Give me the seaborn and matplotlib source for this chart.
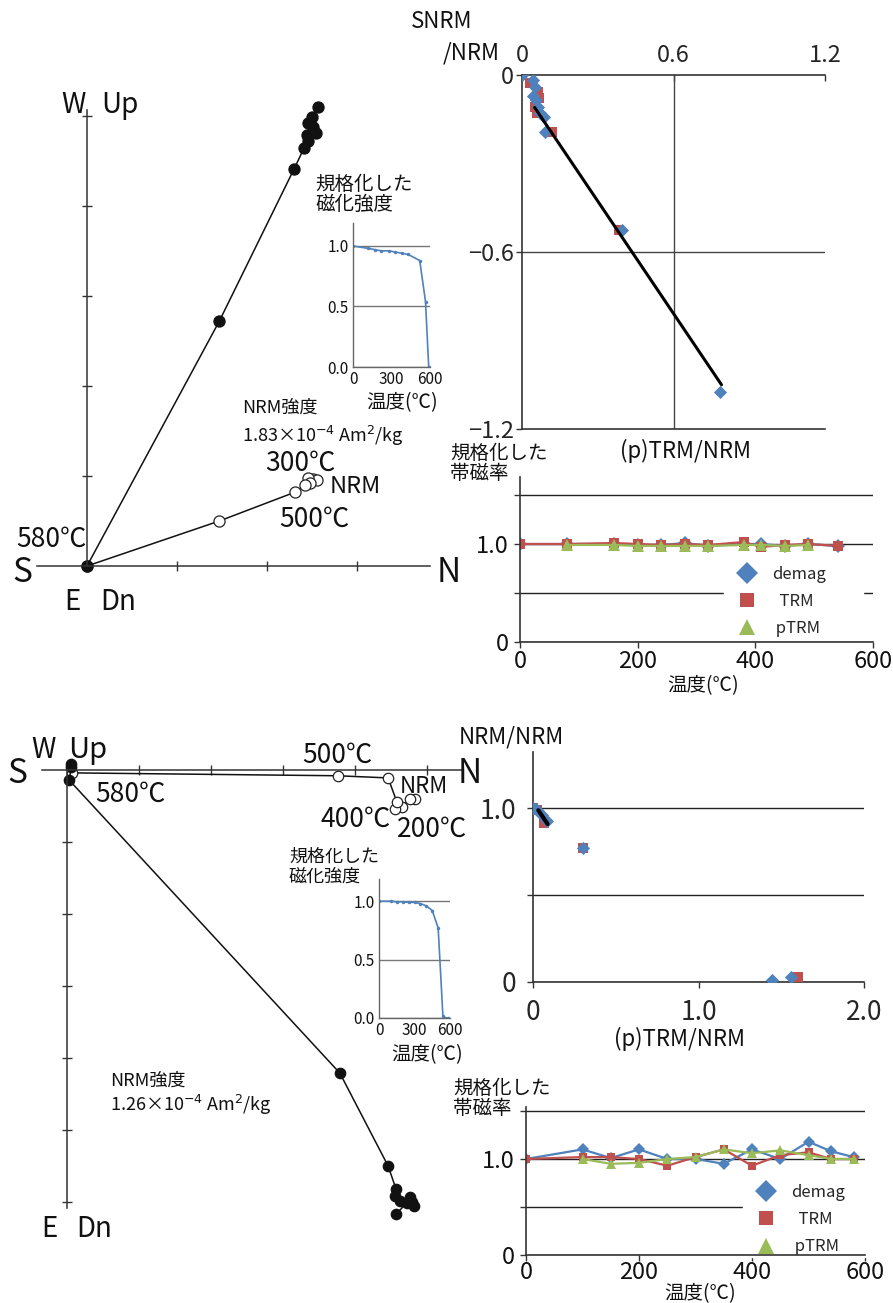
import matplotlib
matplotlib.use('Agg')
import matplotlib.pyplot as plt
from matplotlib.lines import Line2D
import seaborn as sns

# ---------------- data ----------------
# Panel A: Zijderveld diagram, sample 1 (units = tick intervals)
a_vert_n = [2.57, 2.50, 2.51, 2.46, 2.54, 2.44, 2.46, 2.41, 2.30, 1.47, 0.0]
a_vert_up = [5.10, 4.99, 4.88, 4.92, 4.81, 4.79, 4.72, 4.64, 4.41, 2.72, 0.0]
a_hor_n = [2.51, 2.56, 2.46, 2.48, 2.42, 2.31, 1.47, 0.0]
a_hor_e = [0.97, 0.96, 0.98, 0.92, 0.90, 0.82, 0.50, 0.0]
# inset A: normalised intensity vs temperature
a_inset_t = [0, 120, 170, 220, 280, 330, 380, 430, 520, 565, 590]
a_inset_m = [1.0, 0.98, 0.97, 0.96, 0.96, 0.95, 0.94, 0.93, 0.88, 0.54, 0.0]

# Panel B: Arai plot, sample 1
b_demag_x = [0.0, 0.045, 0.052, 0.045, 0.056, 0.062, 0.073, 0.087, 0.093, 0.396, 0.786]
b_demag_y = [0.0, -0.017, -0.04, -0.07, -0.085, -0.107, -0.13, -0.141, -0.192, -0.525, -1.074]
b_trm_x = [0.0, 0.032, 0.065, 0.069, 0.052, 0.061, 0.117, 0.383]
b_trm_y = [0.0, -0.028, -0.056, -0.079, -0.107, -0.13, -0.192, -0.525]
b_fit_x = [0.05, 0.79]
b_fit_y = [-0.11, -1.05]

# Panel C: normalised susceptibility, sample 1
c_temp = [0, 80, 160, 200, 240, 280, 320, 380, 410, 450, 490, 540]
c_demag = [1.0, 1.0, 1.0, 0.99, 0.99, 1.01, 0.98, 1.0, 1.0, 0.98, 1.0, 0.98]
c_trm = [1.0, 1.0, 1.01, 1.0, 0.99, 1.0, 0.99, 1.02, 0.97, 0.99, 1.0, 0.98]
c_ptrm_temp = [80, 160, 200, 240, 280, 320, 380, 410, 450, 490]
c_ptrm = [0.99, 0.99, 0.98, 0.98, 0.98, 0.98, 0.99, 0.99, 0.98, 0.99]

# Panel D: Zijderveld diagram, sample 2
d_vert_n = [4.57, 4.72, 4.82, 4.79, 4.76, 4.63, 4.56, 4.57, 4.46, 3.79, 0.03, 0.06, 0.06]
d_vert_up = [-6.17, -6.01, -6.06, -6.0, -5.93, -5.99, -5.92, -5.82, -5.5, -4.21, -0.14, 0.04, 0.08]
d_hor_n = [4.83, 4.76, 4.65, 4.56, 4.58, 4.46, 3.76, 0.07]
d_hor_e = [-0.40, -0.40, -0.51, -0.54, -0.44, -0.11, -0.08, -0.04]
# inset D
d_inset_t = [0, 100, 150, 200, 250, 300, 350, 400, 450, 500, 540, 560, 580]
d_inset_m = [1.0, 1.0, 0.995, 0.995, 0.99, 0.99, 0.98, 0.96, 0.92, 0.77, 0.02, 0.0, 0.0]

# Panel E: Arai plot, sample 2
e_demag_x = [0.0, 0.018, 0.032, 0.052, 0.082, 0.303, 1.444, 1.558]
e_demag_y = [1.0, 0.994, 0.98, 0.96, 0.923, 0.77, 0.013, 0.029]
e_trm_x = [0.0, 0.026, 0.066, 0.303, 1.604]
e_trm_y = [1.0, 0.987, 0.914, 0.77, 0.029]
e_fit_x = [0.032, 0.088]
e_fit_y = [0.987, 0.908]

# Panel F: normalised susceptibility, sample 2
f_temp = [0, 100, 150, 200, 250, 300, 350, 400, 450, 500, 540, 580]
f_demag = [1.0, 1.10, 1.01, 1.10, 1.0, 1.0, 0.95, 1.10, 1.0, 1.18, 1.08, 1.02]
f_trm = [1.0, 1.02, 1.02, 1.0, 0.93, 1.02, 1.10, 0.93, 1.04, 1.07, 1.0, 1.0]
f_ptrm_temp = [100, 150, 200, 250, 300, 350, 400, 450, 500, 540, 580]
f_ptrm = [1.0, 0.95, 0.96, 1.0, 1.02, 1.10, 1.06, 1.09, 1.04, 1.0, 1.0]

legend_labels = ['demag', '  TRM', ' pTRM']

# ---------------- style ----------------
sns.set_theme(style='white')
plt.rcParams['font.family'] = ['Noto Sans CJK JP', 'DejaVu Sans']
plt.rcParams['axes.unicode_minus'] = False

BLUE = '#4f81bd'
RED = '#c0504d'
GREEN = '#9bbb59'
INK = '#111111'
AXC = '#333333'

W, H = 893, 1303
fig = plt.figure(figsize=(W / 100, H / 100), dpi=100)


def px_ax(x0, y0, x1, y1):
    ax = fig.add_axes([x0 / W, 1 - y1 / H, (x1 - x0) / W, (y1 - y0) / H])
    ax.patch.set_alpha(0)
    return ax


def ptxt(x, y, s, size, ha='center', va='baseline', **kw):
    return fig.text(x / W, 1 - y / H, s, fontsize=size, ha=ha, va=va, color=INK, **kw)


def zij_axes(ax, hb, vb, xt, yt):
    for sd in ('top', 'right'):
        ax.spines[sd].set_visible(False)
    for sd in ('left', 'bottom'):
        ax.spines[sd].set_position(('data', 0))
        ax.spines[sd].set_color(AXC)
        ax.spines[sd].set_linewidth(1.1)
    ax.spines['bottom'].set_bounds(*hb)
    ax.spines['left'].set_bounds(*vb)
    ax.set_xticks(xt)
    ax.set_yticks(yt)
    ax.tick_params(direction='inout', length=7, width=1, color=AXC, left=True, bottom=True,
                   labelleft=False, labelbottom=False)
    ax.set_xlabel('')
    ax.set_ylabel('')


def zij_paths(ax, hn, he, vn, vu, ms):
    sns.lineplot(x=hn, y=he, sort=False, estimator=None, ax=ax, color=INK, lw=1.1,
                 marker='o', markersize=ms, markerfacecolor='white', markeredgecolor='#222222',
                 markeredgewidth=0.9, legend=False)
    sns.lineplot(x=vn, y=vu, sort=False, estimator=None, ax=ax, color=INK, lw=1.1,
                 marker='o', markersize=ms, markerfacecolor=INK, markeredgecolor=INK,
                 markeredgewidth=0.9, legend=False)


def inset(ax, t, m):
    sns.lineplot(x=t, y=m, sort=False, estimator=None, ax=ax, color=BLUE, lw=1.2,
                 marker='o', markersize=2.5, markeredgewidth=0, legend=False)
    ax.set_xlim(0, 600)
    ax.set_ylim(0, 1.19)
    ax.set_xticks([0, 300, 600], ['0', '300', '600'])
    ax.set_yticks([0, 0.5, 1.0], ['0.0', '0.5', '1.0'])
    ax.yaxis.grid(True, color='#777777', lw=1)
    for sd in ('top', 'right'):
        ax.spines[sd].set_visible(False)
    for sd in ('left', 'bottom'):
        ax.spines[sd].set_color('#666666')
        ax.spines[sd].set_linewidth(1)
    ax.tick_params(length=0, labelsize=11, colors=INK, pad=3)
    ax.set_xlabel('')
    ax.set_ylabel('')


def susc(ax, temp, dm, trm, pt, ptrm, ytop, ms, leg_box, xpad, ypad):
    sns.lineplot(x=temp, y=dm, sort=False, estimator=None, ax=ax, color=BLUE, lw=1.6,
                 marker='D', markersize=ms, markeredgewidth=0, legend=False)
    sns.lineplot(x=temp, y=trm, sort=False, estimator=None, ax=ax, color=RED, lw=1.6,
                 marker='s', markersize=ms - 0.5, markeredgewidth=0, legend=False)
    sns.lineplot(x=pt, y=ptrm, sort=False, estimator=None, ax=ax, color=GREEN, lw=1.6,
                 marker='^', markersize=ms + 0.5, markeredgewidth=0, legend=False)
    ax.set_xlim(0, 600)
    ax.set_ylim(0, ytop)
    ax.set_xticks([0, 200, 400, 600], ['0', '200', '400', '600'])
    ax.set_yticks([0, 0.5, 1.0, 1.5], ['0', '', '1.0', ''])
    ax.yaxis.grid(True, color='#222222', lw=1)
    for sd in ('top', 'right'):
        ax.spines[sd].set_visible(False)
    for sd in ('left', 'bottom'):
        ax.spines[sd].set_color(AXC)
        ax.spines[sd].set_linewidth(1.2)
    ax.tick_params(axis='x', bottom=True, direction='out', length=4, width=1, color=AXC,
                   labelsize=17, pad=xpad, labelcolor=INK)
    ax.tick_params(axis='y', left=True, direction='out', length=4, width=1, color=AXC,
                   labelsize=17, pad=ypad, labelcolor=INK)
    ax.set_xlabel('')
    ax.set_ylabel('')
    handles = [Line2D([], [], ls='none', marker='D', color=BLUE, markersize=11, mew=0),
               Line2D([], [], ls='none', marker='s', color=RED, markersize=10, mew=0),
               Line2D([], [], ls='none', marker='^', color=GREEN, markersize=12, mew=0)]
    x0, y0, x1 = leg_box
    leg = ax.legend(handles, legend_labels, loc='upper left',
                    bbox_to_anchor=(x0 / W, 1 - y0 / H, (x1 - x0) / W, 0.0),
                    bbox_transform=fig.transFigure, mode='expand', frameon=True,
                    facecolor='white', edgecolor='white', framealpha=1, fancybox=False,
                    fontsize=12, handlelength=2.6, handletextpad=0.2, labelspacing=0.62,
                    borderpad=0.1, borderaxespad=0)
    leg.set_zorder(2.4)


def arai_markers(ax, tx, ty, dx, dy, fx, fy, fit_lw):
    sns.scatterplot(x=tx, y=ty, marker='s', s=55, color=RED, linewidth=0, ax=ax, legend=False, zorder=3)
    sns.scatterplot(x=dx, y=dy, marker='D', s=45, color=BLUE, linewidth=0, ax=ax, legend=False, zorder=4)
    sns.lineplot(x=fx, y=fy, sort=False, estimator=None, ax=ax, color='black', lw=fit_lw, legend=False, zorder=5)
    ax.set_xlabel('')
    ax.set_ylabel('')


# ---------------- Panel A ----------------
axA = px_ax(0, 60, 470, 625)
oxA, oyA, sA = 87, 566, 90
axA.set_xlim(-oxA / sA, (470 - oxA) / sA)
axA.set_ylim((oyA - 625) / sA, (oyA - 60) / sA)
zij_paths(axA, a_hor_n, a_hor_e, a_vert_n, a_vert_up, 8)
zij_axes(axA, (-0.56, 3.81), (0, 5.07), [1, 2, 3], [1, 2, 3, 4, 5])

ptxt(73, 113, 'W', 20)
ptxt(120, 113, 'Up', 20)
ptxt(22, 582, 'S', 24)
ptxt(449, 582, 'N', 24)
ptxt(72, 610, 'E', 20)
ptxt(118, 610, 'Dn', 20)
ptxt(51, 547, '580℃', 19)
ptxt(242, 413, 'NRM強度', 13, ha='left')
ptxt(242, 442, '1.83×10$^{-4}$ Am$^{2}$/kg', 13, ha='left')
ptxt(300, 471, '300℃', 19)
ptxt(330, 493, 'NRM', 17, ha='left')
ptxt(314, 527, '500℃', 19)

axAi = px_ax(353, 223, 430, 367)
inset(axAi, a_inset_t, a_inset_m)
ptxt(315, 190, '規格化した', 14, ha='left')
ptxt(315, 210, '磁化強度', 14, ha='left')
ptxt(402, 408, '温度(℃)', 14)

# ---------------- Panel B ----------------
axB = px_ax(522, 75, 825, 429)
arai_markers(axB, b_trm_x, b_trm_y, b_demag_x, b_demag_y, b_fit_x, b_fit_y, 2.2)
axB.set_xlim(0, 1.2)
axB.set_ylim(-1.2, 0)
axB.set_xticks([0, 0.6, 1.2], ['0', '0.6', '1.2'])
axB.set_yticks([0, -0.6, -1.2], ['0', '−0.6', '−1.2'])
axB.axvline(0.6, color='#444444', lw=1, zorder=1)
axB.axhline(-0.6, color='#444444', lw=1, zorder=1)
axB.spines['right'].set_visible(False)
for sd in ('top', 'bottom', 'left'):
    axB.spines[sd].set_color(AXC)
    axB.spines[sd].set_linewidth(1.2)
axB.tick_params(axis='x', top=True, bottom=False, labeltop=True, labelbottom=False,
                direction='in', length=4, width=1, color=AXC, labelsize=17, pad=5.5)
axB.tick_params(axis='y', left=True, direction='out', length=4, width=1, color=AXC,
                labelsize=17, pad=2)
ptxt(442, 28, 'SNRM', 16)
ptxt(471, 60, '/NRM', 16)
ptxt(685, 458, '(p)TRM/NRM', 16)

# ---------------- Panel C ----------------
axC = px_ax(520, 477, 873, 642)
susc(axC, c_temp, c_demag, c_trm, c_ptrm_temp, c_ptrm, (642 - 477) / 98, 7.5,
     (724, 564, 863), 1.5, 4)
ptxt(450, 459, '規格化した', 14, ha='left')
ptxt(450, 479, '帯磁率', 14, ha='left')
ptxt(703, 691, '温度(℃)', 14)

# ---------------- Panel D ----------------
axD = px_ax(0, 700, 480, 1265)
oxD, oyD, sD = 67, 770, 72
axD.set_xlim(-oxD / sD, (480 - oxD) / sD)
axD.set_ylim((oyD - 1265) / sD, (oyD - 700) / sD)
zij_paths(axD, d_hor_n, d_hor_e, d_vert_n, d_vert_up, 7.5)
zij_axes(axD, (-0.35, 5.49), (-6.08, 0), [1, 2, 3, 4, 5], [-1, -2, -3, -4, -5, -6])

ptxt(17, 783, 'S', 24)
ptxt(43, 758, 'W', 20)
ptxt(88, 758, 'Up', 21)
ptxt(470, 783, 'N', 24)
ptxt(337, 763, '500℃', 19)
ptxt(130, 802, '580℃', 19)
ptxt(400, 793, 'NRM', 16, ha='left')
ptxt(356, 827, '400℃', 19)
ptxt(432, 837, '200℃', 19)
ptxt(49, 1237, 'E', 20)
ptxt(94, 1237, 'Dn', 20)
ptxt(110, 1086, 'NRM強度', 13, ha='left')
ptxt(110, 1111, '1.26×10$^{-4}$ Am$^{2}$/kg', 13, ha='left')

axDi = px_ax(379, 879, 450, 1018)
inset(axDi, d_inset_t, d_inset_m)
ptxt(289, 862, '規格化した', 13, ha='left')
ptxt(289, 882, '磁化強度', 13, ha='left')
ptxt(427, 1060, '温度(℃)', 14)

# ---------------- Panel E ----------------
axE = px_ax(533, 752, 864, 982)
arai_markers(axE, e_trm_x, e_trm_y, e_demag_x, e_demag_y, e_fit_x, e_fit_y, 3)
axE.set_xlim(0, 2.0)
axE.set_ylim(0, (982 - 752) / 174)
axE.set_xticks([0, 1.0, 2.0], ['0', '1.0', '2.0'])
axE.set_yticks([0, 0.5, 1.0], ['0', '', '1.0'])
axE.yaxis.grid(True, color='#222222', lw=1)
for sd in ('top', 'right'):
    axE.spines[sd].set_visible(False)
for sd in ('left', 'bottom'):
    axE.spines[sd].set_color(AXC)
    axE.spines[sd].set_linewidth(1.2)
axE.tick_params(axis='x', bottom=True, direction='out', length=4, width=1, color=AXC,
                labelsize=19, pad=8)
axE.tick_params(axis='y', left=True, direction='out', length=4, width=1, color=AXC,
                labelsize=19, pad=8)
ptxt(511, 743, 'NRM/NRM', 16)
ptxt(680, 1046, '(p)TRM/NRM', 16)

# ---------------- Panel F ----------------
axF = px_ax(526, 1107, 865, 1255)
susc(axF, f_temp, f_demag, f_trm, f_ptrm_temp, f_ptrm, (1255 - 1107) / 96, 6.5,
     (743, 1182, 872), 0.5, 4)
ptxt(453, 1094, '規格化した', 14, ha='left')
ptxt(453, 1114, '帯磁率', 14, ha='left')
ptxt(700, 1299, '温度(℃)', 14)

fig.savefig('out.png', dpi=100)
